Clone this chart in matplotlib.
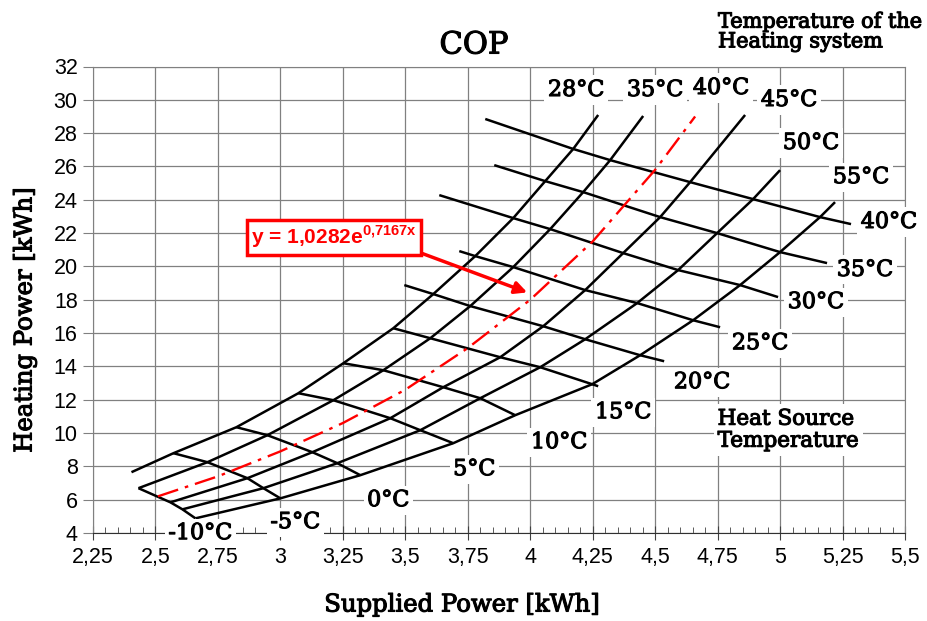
import numpy as np
import matplotlib
matplotlib.use("Agg")
import matplotlib.pyplot as plt
import matplotlib.patheffects as pe
from matplotlib.ticker import MultipleLocator

plt.rcParams['mathtext.fontset'] = 'custom'
plt.rcParams['mathtext.bf'] = 'Liberation Sans:bold'
plt.rcParams['mathtext.rm'] = 'Liberation Sans:bold'

nan = np.nan

# heat source temperatures (one point per source temperature on every heating curve)
source_temps = ['-10°C', '-5°C', '0°C', '5°C', '10°C', '15°C', '20°C', '25°C', '30°C', '35°C', '40°C']
sink_temps = ['28°C', '35°C', '45°C', '50°C', '55°C']

# supplied power [kWh] / heating power [kWh] per heating-system temperature
sup_28 = [nan, 2.572, 2.824, 3.072, 3.252, 3.452, 3.612, 3.78, 3.932, 4.06, 4.172]
heat_28 = [nan, 8.79, 10.35, 12.39, 14.19, 16.29, 18.34, 20.62, 22.90, 25.12, 27.05]
sup_35 = [2.432, 2.708, 2.948, 3.212, 3.412, 3.60, 3.76, 3.932, 4.08, 4.212, 4.32]
heat_35 = [6.69, 8.25, 9.87, 11.97, 13.77, 15.69, 17.62, 19.96, 22.24, 24.46, 26.38]
sup_45 = [2.56, 2.868, 3.128, 3.44, 3.652, 3.88, 4.052, 4.22, 4.372, 4.52, 4.64]
heat_45 = [5.84, 7.29, 8.85, 10.89, 12.75, 14.55, 16.41, 18.58, 20.80, 22.96, 25.06]
sup_50 = [2.608, 2.932, 3.228, 3.56, 3.80, 4.04, 4.22, 4.428, 4.592, 4.748, 4.892]
heat_50 = [5.42, 6.69, 8.19, 10.17, 12.09, 13.95, 15.63, 17.80, 19.78, 22.0, 24.04]
sup_55 = [2.66, 3.0, 3.32, 3.692, 3.94, 4.248, 4.44, 4.652, 4.84, 5.0, 5.16]
heat_55 = [4.88, 6.08, 7.47, 9.39, 11.07, 12.93, 14.67, 16.77, 18.88, 20.86, 22.96]

# curve ends above the 40°C source line (28, 35, 45, 50, 55)
top_sup = [4.272, 4.452, 4.86, 5.0, 5.22]
top_heat = [29.09, 29.03, 29.09, 25.78, 23.86]
# lower end of the 28°C curve
bottom_28 = (2.404, 7.65)

# extensions of source-temperature lines (left start for 20..40°C, right end for 15..40°C)
start_sup = [3.496, 3.716, 3.636, 3.856, 3.82]
start_heat = [18.88, 20.92, 24.28, 26.08, 28.85]
end_sup = [4.272, 4.536, 4.76, 4.992, 5.188, 5.284]
end_heat = [12.81, 14.31, 16.35, 18.16, 20.2, 22.54]

# trend line (40°C)
trend_x = [2.51, 2.75, 3.0, 3.25, 3.5, 3.75, 4.0, 4.25, 4.5, 4.66]
trend_y = [6.2, 7.4, 8.9, 10.6, 12.6, 15.1, 18.0, 21.5, 25.8, 29.0]

xticks = [2.25, 2.5, 2.75, 3, 3.25, 3.5, 3.75, 4, 4.25, 4.5, 4.75, 5, 5.25, 5.5]
xtick_labels = ['2,25', '2,5', '2,75', '3', '3,25', '3,5', '3,75', '4', '4,25', '4,5', '4,75', '5', '5,25', '5,5']
yticks = list(range(4, 33, 2))

W, H = 928, 621
fig = plt.figure(figsize=(W / 100, H / 100), dpi=100)
ax = fig.add_axes([93 / W, 1 - 533 / H, (905 - 93) / W, (533 - 66.5) / H])
ax.set_xlim(2.25, 5.5)
ax.set_ylim(4, 32)

ax.set_xticks(xticks)
ax.set_xticklabels(xtick_labels)
ax.set_yticks(yticks)
ax.xaxis.set_minor_locator(MultipleLocator(0.05))
ax.grid(True, which='major', color='#808080', lw=0.9)
ax.set_axisbelow(True)
ax.tick_params(axis='x', which='major', direction='inout', length=10, color='#404040', pad=5)
ax.tick_params(axis='x', which='minor', direction='in', length=4, color='#404040')
ax.tick_params(axis='y', which='major', direction='out', length=7, color='#808080', pad=4)
for lab in ax.get_xticklabels() + ax.get_yticklabels():
    lab.set_fontfamily('Liberation Sans')
    lab.set_fontsize(15.5)
for s in ['left', 'top', 'right']:
    ax.spines[s].set_color('#808080')
ax.spines['bottom'].set_color('#303030')

sups = [sup_28, sup_35, sup_45, sup_50, sup_55]
heats = [heat_28, heat_35, heat_45, heat_50, heat_55]
lk = dict(color='black', lw=1.8, solid_capstyle='butt', zorder=3)

# heating-system temperature curves
for i in range(len(sups)):
    xs = [v for v in sups[i] if not np.isnan(v)] + [top_sup[i]]
    ys = [v for v in heats[i] if not np.isnan(v)] + [top_heat[i]]
    if i == 0:
        xs = [bottom_28[0]] + xs
        ys = [bottom_28[1]] + ys
    ax.plot(xs, ys, **lk)

# heat source temperature lines
for j in range(len(source_temps)):
    xs = [s[j] for s in sups if not np.isnan(s[j])]
    ys = [h[j] for h in heats if not np.isnan(h[j])]
    if j >= 6:
        xs = [start_sup[j - 6]] + xs
        ys = [start_heat[j - 6]] + ys
    if j >= 5:
        xs = xs + [end_sup[j - 5]]
        ys = ys + [end_heat[j - 5]]
    ax.plot(xs, ys, **lk)

ax.plot(trend_x, trend_y, color='red', lw=1.7, dashes=(9, 3, 1.5, 3), zorder=4)

serif = 'DejaVu Serif'
heavy = [pe.withStroke(linewidth=0.8, foreground='black')]
box = dict(facecolor='white', edgecolor='none', pad=2.5)
lbl = dict(fontfamily=serif, fontsize=16, ha='center', va='center', bbox=box, zorder=6,
           clip_on=False, path_effects=heavy)

top_labels = ['28°C', '35°C', '40°C', '45°C', '50°C', '55°C']
top_pos = [(4.184, 30.59), (4.50, 30.59), (4.764, 30.71), (5.036, 29.99), (5.124, 27.41), (5.324, 25.36)]
for t, (x, y) in zip(top_labels, top_pos):
    ax.text(x, y, t, **lbl)

src_pos = [(2.68, 3.99), (3.06, 4.65), (3.432, 5.97), (3.776, 7.83), (4.116, 9.45), (4.372, 11.25),
           (4.688, 13.05), (4.92, 15.39), (5.144, 17.86), (5.34, 19.79), (5.436, 22.67)]
for t, (x, y) in zip(source_temps, src_pos):
    ax.text(x, y, t, **lbl)

ax.text(4.75, 10.2, 'Heat Source\nTemperature', fontfamily=serif, fontsize=15.5, ha='left', va='center',
        linespacing=1.0, bbox=dict(facecolor='white', edgecolor='none', pad=3), zorder=6,
        path_effects=heavy)

fig.text(718 / W, 1 - 32 / H, 'Temperature of the\nHeating system', fontfamily=serif, fontsize=15,
         ha='left', va='center', linespacing=1.05, path_effects=heavy)
fig.text(474 / W, 1 - 45 / H, 'COP', fontfamily=serif, fontsize=22, ha='center', va='center',
         path_effects=heavy)
fig.text(25 / W, 1 - 320 / H, 'Heating Power [kWh]', fontfamily=serif, fontsize=17.5, rotation=90,
         ha='center', va='center', path_effects=heavy)
fig.text(462 / W, 1 - 605 / H, 'Supplied Power [kWh]', fontfamily=serif, fontsize=17.5,
         ha='center', va='center', path_effects=heavy)

ax.annotate(r'y = 1,0282e$^{\mathbf{0{,}7167x}}$', xy=(3.988, 18.44), xytext=(3.216, 21.76),
            fontfamily='Liberation Sans', fontweight='bold', fontsize=15, color='red',
            ha='center', va='center', zorder=7,
            bbox=dict(facecolor='white', edgecolor='red', lw=2.5, pad=3),
            arrowprops=dict(arrowstyle='-|>', color='red', lw=2.5, mutation_scale=18,
                            shrinkA=0, shrinkB=0, relpos=(0.98, 0.0)))

fig.savefig('out.png', dpi=100)
